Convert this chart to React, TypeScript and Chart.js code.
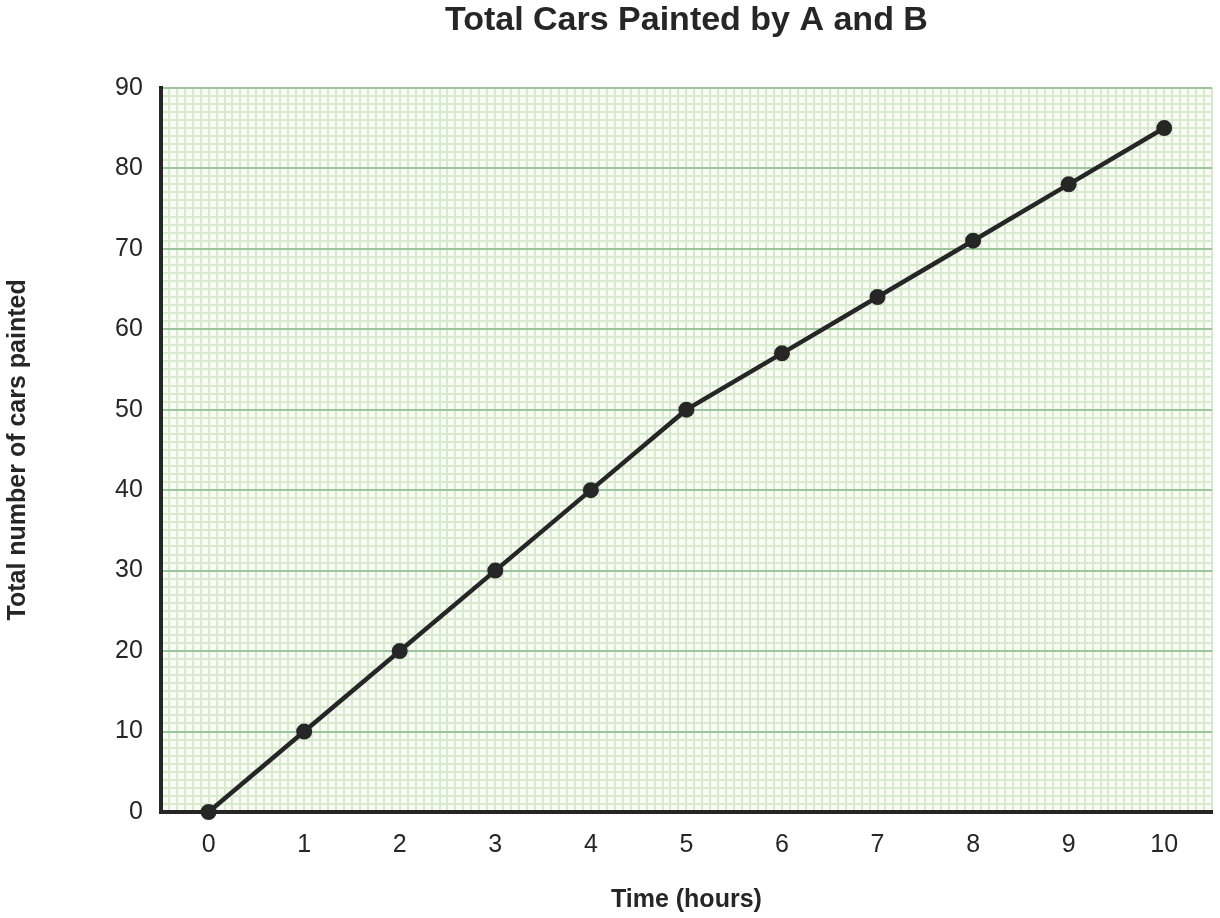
import React, { useEffect, useRef } from "react";
import { Chart, registerables } from "chart.js";

Chart.register(...registerables);

const hours: number[] = [0, 1, 2, 3, 4, 5, 6, 7, 8, 9, 10];
const totalCars: number[] = [0, 10, 20, 30, 40, 50, 57, 64, 71, 78, 85];
const xTickValues: number[] = [0, 1, 2, 3, 4, 5, 6, 7, 8, 9, 10];
const yTickValues: number[] = [0, 10, 20, 30, 40, 50, 60, 70, 80, 90];

const FONT = "'Liberation Sans', Arial, Helvetica, sans-serif";
const TEXT = "#262626";

const paperPlugin = {
  id: "paper",
  beforeDraw(chart: any) {
    const { ctx, chartArea, scales } = chart;
    const { left, right, top, bottom } = chartArea;
    ctx.save();
    ctx.fillStyle = "#f7fbf4";
    ctx.fillRect(left, top, right - left, bottom - top);
    ctx.strokeStyle = "#d7eacd";
    ctx.lineWidth = 2;
    const ys = scales.y;
    const xs = scales.x;
    ctx.beginPath();
    for (let v = ys.min; v <= ys.max + 1e-9; v += 1) {
      const py = Math.round(ys.getPixelForValue(v));
      ctx.moveTo(left, py);
      ctx.lineTo(right, py);
    }
    for (let v = xs.min; v <= xs.max + 1e-9; v += 1 / 12) {
      const px = Math.round(xs.getPixelForValue(v));
      ctx.moveTo(px, top);
      ctx.lineTo(px, bottom);
    }
    ctx.stroke();
    ctx.restore();
  },
};

export default function App() {
  const ref = useRef<HTMLCanvasElement | null>(null);
  useEffect(() => {
    if (!ref.current) return;
    const chart = new Chart(ref.current, {
      type: "line",
      data: {
        datasets: [
          {
            label: "Total cars",
            data: hours.map((h, i) => ({ x: h, y: totalCars[i] })),
            borderColor: "#262626",
            backgroundColor: "#262626",
            borderWidth: 4.5,
            pointRadius: 8,
            pointBackgroundColor: "#262626",
            pointBorderWidth: 0,
            tension: 0,
            clip: false,
          },
        ],
      },
      options: {
        animation: false,
        responsive: false,
        maintainAspectRatio: false,
        layout: { padding: { left: 0, right: 5, top: 0, bottom: 3 } },
        plugins: {
          legend: { display: false },
          tooltip: { enabled: false },
          title: {
            display: true,
            text: "Total Cars Painted by A and B",
            fullSize: false,
            color: TEXT,
            font: { family: FONT, size: 34, weight: "bold" },
            padding: { top: 0, bottom: 47 },
          },
        },
        scales: {
          x: {
            type: "linear",
            min: -0.5,
            max: 10.5,
            afterBuildTicks: (axis: any) => {
              axis.ticks = xTickValues.map((v) => ({ value: v }));
            },
            grid: { display: false, drawTicks: false },
            border: { display: true, color: "#262626", width: 4 },
            ticks: {
              color: TEXT,
              padding: 18,
              font: { family: FONT, size: 25 },
              callback: (v: any) => String(v),
            },
            title: {
              display: true,
              text: "Time (hours)",
              color: TEXT,
              font: { family: FONT, size: 25, weight: "bold" },
              padding: { top: 7, bottom: 0 },
            },
          },
          y: {
            type: "linear",
            min: 0,
            max: 90,
            afterBuildTicks: (axis: any) => {
              axis.ticks = yTickValues.map((v) => ({ value: v }));
            },
            grid: { color: "#9dc59b", lineWidth: 2, drawTicks: false },
            border: { display: true, color: "#262626", width: 4 },
            ticks: {
              color: TEXT,
              padding: 18,
              font: { family: FONT, size: 25 },
            },
            title: {
              display: true,
              text: "Total number of cars painted",
              color: TEXT,
              font: { family: FONT, size: 25, weight: "bold" },
              padding: { top: 3, bottom: 64 },
            },
          },
        },
      },
      plugins: [paperPlugin],
    } as any);
    return () => chart.destroy();
  }, []);
  return (
    <div style={{ position: "fixed", left: 0, top: 0, width: 1220, height: 918, background: "#fff" }}>
      <canvas ref={ref} width={1220} height={918} style={{ width: 1220, height: 918 }} />
    </div>
  );
}
